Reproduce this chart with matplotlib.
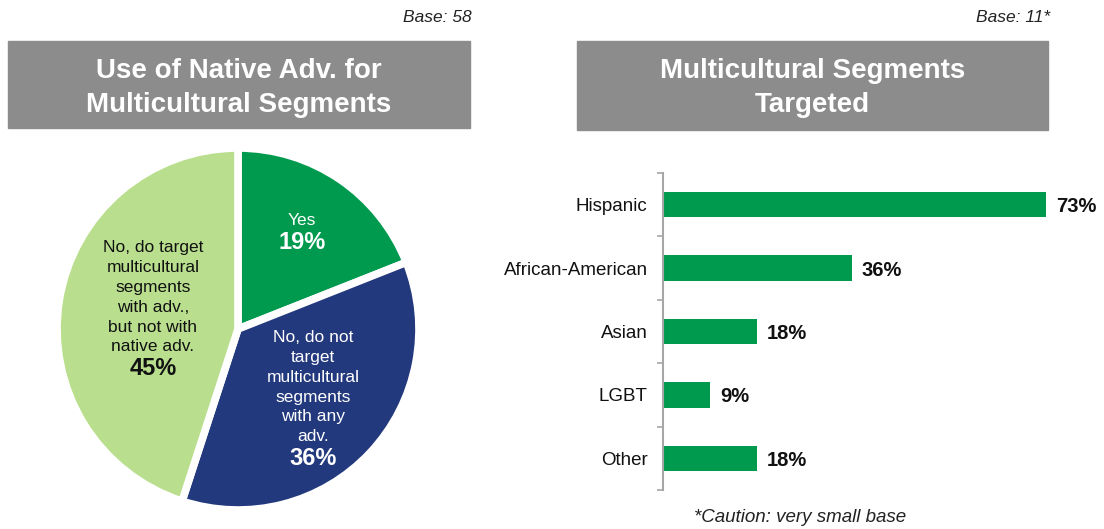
import numpy as np
import matplotlib
matplotlib.use('Agg')
import matplotlib.pyplot as plt
from matplotlib.patches import Rectangle

plt.rcParams['font.family'] = ['Liberation Sans', 'DejaVu Sans']

# data
pie_labels = ['Yes', 'No, do not\ntarget\nmulticultural\nsegments\nwith any\nadv.',
              'No, do target\nmulticultural\nsegments\nwith adv.,\nbut not with\nnative adv.']
pie_values = [19, 36, 45]
segments = ['Hispanic', 'African-American', 'Asian', 'LGBT', 'Other']
segment_pct = [73, 36, 18, 9, 18]

GREEN = '#009a4e'
BLUE = '#23397d'
LIGHT = '#b9df8e'
GRAY = '#8c8c8c'

W, H = 1104, 529
fig = plt.figure(figsize=(W / 100, H / 100), dpi=100)


def fx(x):
    return x / W


def fy(y):
    return 1 - y / H


# title boxes
for (x0, x1, y0, y1, title) in [(8, 470, 41, 128, 'Use of Native Adv. for\nMulticultural Segments'),
                                (577, 1048, 41, 130, 'Multicultural Segments\nTargeted')]:
    fig.patches.append(Rectangle((fx(x0), fy(y1)), fx(x1 - x0), (y1 - y0) / H,
                                 transform=fig.transFigure, color=GRAY, zorder=0))
    fig.text(fx((x0 + x1) / 2), fy(88), title, color='white', fontsize=20,
             fontweight='bold', ha='center', va='center', linespacing=1.45)

fig.text(fx(472), fy(18), 'Base: 58', style='italic', fontsize=12.5, ha='right', va='center', color='#222222')
fig.text(fx(1050), fy(18), 'Base: 11*', style='italic', fontsize=12.5, ha='right', va='center', color='#222222')

# pie
cx, cy, r = 238, 329, 181
lim = 1.05
ax1 = fig.add_axes([fx(cx - r * lim), fy(cy + r * lim), 2 * r * lim / W, 2 * r * lim / H])
ax1.pie(pie_values, colors=[GREEN, BLUE, LIGHT], startangle=90, counterclock=False,
        wedgeprops=dict(edgecolor='white', linewidth=5.5))
ax1.set_xlim(-lim, lim)
ax1.set_ylim(-lim, lim)
ax1.set_aspect('equal')
ax1.axis('off')

label_xy = [(0.354, 0.541), (0.414, -0.652), (-0.47, -0.155)]
txt_col = ['white', 'white', '#111111']
for lab, v, (x, y), c in zip(pie_labels, pie_values, label_xy, txt_col):
    ax1.text(x, y + 0.015, lab, ha='center', va='bottom', fontsize=12.5, color=c, linespacing=1.4)
    ax1.text(x, y, f'{v}%', ha='center', va='top', fontsize=17, fontweight='bold', color=c)

# bars
left, right, top, bottom = 663, 1100, 173, 490
px_per_pct = (1046 - 663) / 73
ax2 = fig.add_axes([fx(left), fy(bottom), (right - left) / W, (bottom - top) / H])
ypos = np.arange(len(segments))
ax2.barh(ypos, segment_pct, height=0.4, color=GREEN)
ax2.set_ylim(len(segments) - 0.5, -0.5)
ax2.set_xlim(0, (right - left) / px_per_pct)
ax2.set_yticks(ypos)
ax2.set_yticklabels(segments, fontsize=13.5, color='#111111')
ax2.set_yticks(np.arange(-0.5, len(segments)), minor=True)
ax2.tick_params(axis='y', which='major', length=0, pad=11)
ax2.tick_params(axis='y', which='minor', length=4, color='#a6a6a6', width=1.2)
ax2.set_xticks([])
for s in ['top', 'right', 'bottom']:
    ax2.spines[s].set_visible(False)
ax2.spines['left'].set_color('#a6a6a6')
ax2.spines['left'].set_linewidth(1.5)
for yv, v in zip(ypos, segment_pct):
    ax2.annotate(f'{v}%', (v, yv), xytext=(7, 0), textcoords='offset points',
                 ha='left', va='center_baseline', fontsize=14.5, fontweight='bold', color='#111111')

fig.text(fx(800), fy(517), '*Caution: very small base', style='italic', fontsize=13.5,
         ha='center', va='center', color='#222222')

fig.savefig('out.png', dpi=100)
